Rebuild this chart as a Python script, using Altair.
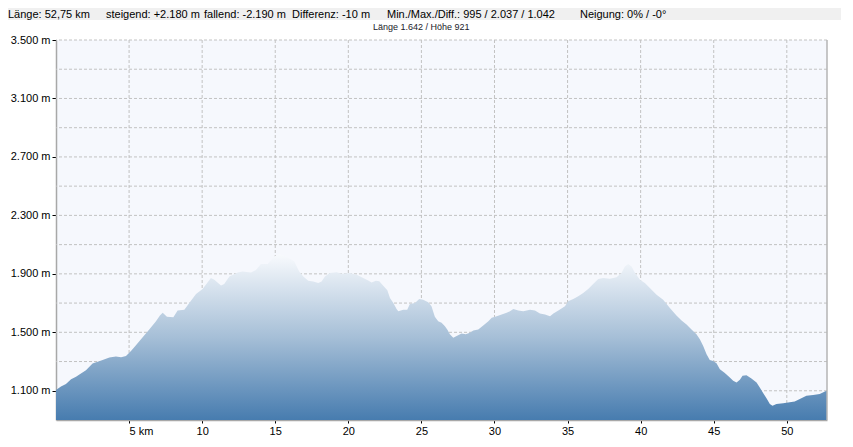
import altair as alt
import pandas as pd

# Elevation profile (distance in km, elevation in m)
km = [0, 0.34, 0.68, 1.03, 1.37, 1.6, 2.05, 2.5, 2.85, 3.19, 3.65, 4.1, 4.45, 4.79,
      5.13, 5.47, 5.93, 6.38, 6.84, 7.11, 7.3, 7.59, 8.03, 8.32, 8.78, 9.12, 9.58,
      10.03, 10.6, 10.83, 11.29, 11.51, 11.86, 12.43, 12.77, 13.34, 13.68, 14.02,
      14.48, 14.93, 15.28, 15.6, 15.96, 16.3, 16.64, 16.92, 17.26, 17.6, 17.94,
      18.17, 18.4, 18.74, 19.2, 19.54, 20.11, 20.57, 21.02, 21.36, 21.59, 21.89,
      22.12, 22.39, 22.67, 22.85, 23.08, 23.3, 23.42, 23.76, 24.03, 24.21, 24.56,
      24.85, 25.12, 25.47, 25.69, 25.92, 26.15, 26.38, 26.61, 26.79, 26.95, 27.18,
      27.41, 27.75, 28.03, 28.32, 28.55, 28.89, 29.23, 29.58, 29.81, 30.15, 30.49,
      30.83, 31.06, 31.29, 31.63, 31.97, 32.43, 32.77, 33.11, 33.46, 33.8, 34.03,
      34.37, 34.82, 35.04, 35.39, 35.73, 36.07, 36.41, 36.75, 37.1, 37.44, 37.89,
      38.35, 38.69, 38.92, 39.15, 39.38, 39.6, 39.95, 40.29, 40.63, 41.09, 41.54,
      42.0, 42.45, 42.8, 43.14, 43.48, 43.82, 44.05, 44.28, 44.51, 44.73, 44.96,
      45.19, 45.42, 45.76, 46.1, 46.33, 46.56, 46.79, 46.97, 47.24, 47.58, 47.93,
      48.15, 48.38, 48.61, 48.84, 49.02, 49.29, 49.75, 50.2, 50.54, 50.89, 51.34,
      51.8, 52.25, 52.75]
ele = [1105, 1130, 1146, 1178, 1196, 1212, 1241, 1286, 1298, 1311, 1327, 1334, 1330, 1338,
       1372, 1411, 1467, 1519, 1576, 1615, 1633, 1606, 1603, 1649, 1655, 1701, 1762,
       1796, 1871, 1859, 1821, 1830, 1882, 1909, 1916, 1909, 1927, 1968,
       1968, 2018, 2034, 2025, 2006, 1984, 1916, 1882, 1852, 1848, 1837,
       1848, 1882, 1905, 1911, 1900, 1905, 1893, 1871, 1855, 1841, 1852,
       1850, 1818, 1787, 1735, 1701, 1660, 1644, 1655, 1655, 1694, 1701,
       1728, 1723, 1705, 1678, 1606, 1576, 1565, 1542, 1515, 1486, 1463,
       1474, 1492, 1486, 1497, 1513, 1519, 1547, 1576, 1599, 1610, 1621,
       1633, 1644, 1660, 1649, 1644, 1655, 1649, 1628, 1621, 1610, 1628,
       1649, 1678, 1712, 1728, 1746, 1769, 1796, 1830, 1864, 1871, 1866,
       1877, 1905, 1950, 1968, 1950, 1909, 1859, 1837, 1803, 1757, 1723,
       1667, 1615, 1581, 1554, 1519, 1486, 1452, 1406, 1350, 1311, 1304,
       1288, 1248, 1221, 1191, 1168, 1157, 1175, 1202, 1207, 1184, 1157,
       1123, 1085, 1048, 1010, 997, 1010, 1014, 1021, 1026, 1044, 1066,
       1071, 1078, 1102]

x_domain = [0, 52.75]
y_domain = [900, 3500]
y_label_values = [1100, 1500, 1900, 2300, 2700, 3100, 3500]
y_grid_values = [1100, 1300, 1500, 1700, 1900, 2100, 2300, 2500, 2700, 2900, 3100, 3300, 3500]
x_tick_values = [5, 10, 15, 20, 25, 30, 35, 40, 45, 50]

header_items = ["Länge: 52,75 km", "steigend: +2.180 m", "fallend: -2.190 m",
                "Differenz: -10 m", "Min./Max./Diff.: 995 / 2.037 / 1.042",
                "Neigung: 0% / -0°"]
subtitle = "Länge 1.642 / Höhe 921"

FONT = "Liberation Sans"

profile = pd.DataFrame({"km": km, "ele": ele})
ygrid = pd.DataFrame({"ele": y_grid_values})
xgrid = pd.DataFrame({"km": x_tick_values})
one = pd.DataFrame({"a": [0]})

xscale = alt.Scale(domain=x_domain, nice=False, zero=False)
yscale = alt.Scale(domain=y_domain, nice=False, zero=False)

x_axis = alt.Axis(
    values=x_tick_values, title=None, grid=False,
    labelExpr="datum.value == 5 ? '5 km' : datum.label",
    labelAlign=alt.condition("datum.value == 5", alt.value("left"), alt.value("center")),
    labelFlush=False, labelFont=FONT, labelFontSize=11, labelColor="#000000",
    labelPadding=2, tickSize=3, tickColor="#000000",
    domainColor="#a8a8a8", domainWidth=1.5)
y_axis = alt.Axis(
    values=y_label_values, title=None, grid=False,
    labelExpr="replace(format(datum.value, ','), ',', '.') + ' m'",
    labelFont=FONT, labelFontSize=11, labelColor="#000000",
    labelPadding=2, tickSize=4, tickColor="#000000",
    domainColor="#a8a8a8", domainWidth=1.5)

band = alt.Chart(one).mark_rect(color="#f0f0f0").encode(
    x=alt.value(-48), x2=alt.value(800), y=alt.value(-32), y2=alt.value(-20))

ygrid_layer = alt.Chart(ygrid).mark_rule(color="#c2c2c2", strokeDash=[3, 2], strokeWidth=1).encode(
    y=alt.Y("ele:Q", scale=yscale, axis=y_axis))
xgrid_layer = alt.Chart(xgrid).mark_rule(color="#c2c2c2", strokeDash=[3, 2], strokeWidth=1).encode(
    x=alt.X("km:Q", scale=xscale, axis=x_axis))

gradient = alt.Gradient(
    gradient="linear",
    stops=[alt.GradientStop(color="#f8fafd", offset=0),
           alt.GradientStop(color="#a6bfd7", offset=0.5),
           alt.GradientStop(color="#477caf", offset=1)],
    x1=0, x2=0, y1=0, y2=1)

area = alt.Chart(profile).mark_area(color=gradient, interpolate="linear").encode(
    x=alt.X("km:Q", scale=xscale, axis=x_axis),
    y=alt.Y("ele:Q", scale=yscale, axis=y_axis),
    y2=alt.datum(900))

right_border = alt.Chart(one).mark_rule(color="#b4b4b4", strokeWidth=1.5).encode(
    x=alt.X(datum=x_domain[1], scale=xscale, axis=x_axis))

header_x = [-48, 50, 148, 236, 331, 524]
header_layers = [
    alt.Chart(one).mark_text(align="left", baseline="alphabetic", font=FONT,
                             fontSize=11, color="#000000").encode(
        x=alt.value(hx), y=alt.value(-22), text=alt.value(t))
    for hx, t in zip(header_x, header_items)
]

sub = alt.Chart(one).mark_text(align="left", baseline="alphabetic", font=FONT,
                               fontSize=9, color="#1a1a2a").encode(
    x=alt.value(317), y=alt.value(-10), text=alt.value(subtitle))

chart = alt.layer(band, ygrid_layer, xgrid_layer, area, right_border, sub, *header_layers).properties(
    width=771, height=380,
    padding={"left": 48, "top": 32, "right": 14, "bottom": 17},
    autosize=alt.AutoSizeParams(type="none"),
    background="white",
).configure_view(stroke=None, fill="#f6f8fd")

chart.save("out.html", embed_options={"renderer": "svg", "actions": False})
